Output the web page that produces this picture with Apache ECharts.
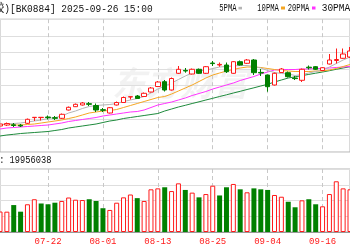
<!DOCTYPE html>
<html><head><meta charset="utf-8">
<script src="https://cdn.jsdelivr.net/npm/echarts@6/dist/echarts.min.js"></script>
<style>html,body{margin:0;padding:0;background:#fff}#c{width:350px;height:250px}</style>
</head><body><div id="c"></div>
<script>
const dates = ['07-11','07-14','07-15','07-16','07-17','07-18','07-21','07-22','07-23','07-24','07-25','07-28','07-29','07-30','07-31',
 '08-01','08-04','08-05','08-06','08-07','08-08','08-11','08-12','08-13','08-14','08-15','08-18','08-19','08-20','08-21','08-22','08-25','08-26','08-27','08-28','08-29',
 '09-01','09-02','09-03','09-04','09-05','09-08','09-09','09-10','09-11','09-12','09-15','09-16','09-17','09-18','09-19','09-22'];
const tickLabels = ['07-22','08-01','08-13','08-25','09-04','09-16'];

const open  = [1022,1023,1023.2,1022.8,1024.7,1030.4,1030.4,1031,1030.3,1029.7,1038,1041.3,1043,1044.3,1042.5,1038.3,1035,1043,1045.5,1051,1052,1051.5,1056,1061.5,1066.3,1058,1074.7,1077.6,1074,1078.7,1074.7,1085,1083,1083,1074.7,1086.3,1084.7,1088,1075.6,1073,1063,1075.5,1075.3,1070,1067.7,1080.8,1081.3,1077.5,1084,1087.5,1089.7,1091];
const close = [1024,1024.5,1022.5,1022,1028.7,1030.7,1030.7,1030.4,1029.7,1033.7,1040.7,1043.7,1045,1043.7,1038,1037.7,1040.3,1045.5,1050.5,1051.3,1049.5,1054.7,1060,1066,1058,1069.5,1078.7,1077,1078.7,1074.7,1081.3,1084.4,1083.6,1076.3,1086.3,1083,1088,1075.3,1075,1061.3,1074.7,1079,1071.3,1069.4,1078.7,1080.2,1078.7,1080.3,1088,1088.5,1094,1097];
const low   = [1021,1022,1021,1021,1024,1027,1027.5,1028.5,1028,1029,1037.5,1041,1042.5,1042,1036,1036,1034.5,1042.5,1045,1048.5,1049,1051,1055.5,1061,1056.5,1057.5,1074,1075.3,1073.5,1074,1074,1082,1081.3,1075,1074.2,1082.5,1084,1073,1072,1056.3,1062.5,1075,1070.5,1068,1066,1078.5,1078,1077,1083.5,1084.5,1089.2,1090];
const high  = [1025,1025.5,1025,1024,1029.5,1030.8,1030.8,1032.5,1032,1034.5,1041.5,1044.5,1046,1046,1044.5,1040,1041,1046.5,1051.5,1051.4,1053,1055.5,1061,1067,1068,1070.5,1082,1080,1079.5,1079.5,1082,1087,1085.5,1085.5,1087,1087.5,1089,1089,1079,1073.5,1075.5,1080,1076.5,1072,1079.5,1082.5,1082,1081,1094,1099.5,1099.5,1101];

const ma5  = [1023.5,1024,1024.5,1025,1026,1027,1028,1029.5,1030.5,1032,1035,1037,1039.5,1041.5,1042.5,1043,1043.5,1044.5,1046.5,1048,1049.5,1051.5,1055,1059,1062,1065,1068.5,1072,1075,1077,1078,1079.5,1081,1081.5,1082,1082.5,1082.5,1081.5,1080,1077.5,1075.5,1074.5,1074,1072.5,1073.5,1075,1076.5,1078,1081,1084.5,1088,1091];
const ma10 = [1023.5,1023.5,1023,1023,1023.5,1024,1025,1026,1027,1028,1029.5,1031,1033,1035,1036,1037,1037.5,1038.5,1040.5,1042.5,1044.5,1046.5,1048.5,1050.5,1051.5,1054,1057,1060,1063,1066.5,1070,1073,1075,1077,1078.5,1080,1081,1081,1080.5,1079.5,1078.5,1077.5,1077,1076.5,1076.5,1076.5,1077,1077,1078,1079.5,1081.5,1083.5];
const ma20 = [1019,1020,1020.5,1021,1021.5,1022,1022.5,1023,1024,1025,1026.5,1027.5,1028.5,1029.5,1030.5,1032,1033,1034,1035,1036,1036.5,1038,1040.5,1043,1044.5,1046,1048,1050,1052.5,1054.5,1056.5,1059,1061,1063,1065,1067.5,1069.5,1071.5,1074,1076,1078,1078.5,1078.5,1078.5,1079,1079,1079.5,1079.5,1080,1080.5,1081,1081.5];
const ma30 = [1012,1013,1013.7,1014.5,1015,1015.5,1016,1016.5,1017.5,1018.5,1020,1021,1022,1023,1024,1025.5,1027,1028,1029.5,1030.5,1031.5,1032.5,1033.5,1034.5,1037,1039,1041,1042.7,1044.5,1046.2,1048,1049.7,1051.5,1053.2,1055,1056.7,1058.5,1060.2,1062,1063.7,1066,1068,1070,1071.2,1072.4,1073.6,1074.8,1076,1077.3,1078.7,1080,1081.3];

// volume in millions of shares
const volume = [13,12.9,17.1,12.9,17.6,20.8,18.1,17.6,18.6,19.7,21.9,20.5,20.3,20.8,19.7,15.1,14.0,18.6,22.0,23.8,21.5,19.7,27.1,27.7,28.4,26.0,30.9,26.7,25.0,22.0,24.1,29.4,23.2,28.4,30.5,27.1,25.2,27.7,27.1,26.7,23.5,22.4,19.2,15.7,20.1,20.8,17.6,16.3,24.1,32.2,27.7,27.1];
const volUp  = [1,1,0,0,1,1,0,0,0,1,1,1,1,0,0,0,1,1,1,1,0,1,1,1,0,1,1,0,1,0,1,1,0,0,1,0,1,0,0,0,1,1,0,0,1,0,0,1,1,1,1,1];

const RED = '#ff1a1a', GREEN = '#008000';
const tickSet = new Set(tickLabels);
const showTick = (i) => tickSet.has(dates[i]);

const chart = echarts.init(document.getElementById('c'), null, {renderer: 'canvas'});
const gridL = -5.7, gridR = -1.3;
const dashed = {show: true, interval: showTick, lineStyle: {color: '#c8c8c8', type: [4, 3], width: 1}};

chart.setOption({
  animation: false,
  backgroundColor: '#fff',
  grid: [
    {left: gridL, right: gridR, top: 19.2, height: 132.8, show: true, borderColor: '#b4b4b4', borderWidth: 1},
    {left: gridL, right: gridR, top: 169, height: 63, show: true, borderColor: '#b4b4b4', borderWidth: 1}
  ],
  xAxis: [
    {type: 'category', gridIndex: 0, data: dates, boundaryGap: false,
     axisLine: {show: false}, axisTick: {show: false}, axisLabel: {show: false}, splitLine: dashed},
    {type: 'category', gridIndex: 1, data: dates, boundaryGap: false,
     axisLine: {show: true, lineStyle: {color: '#999'}}, axisTick: {show: false},
     axisLabel: {show: true, interval: showTick, color: RED, fontFamily: 'Liberation Mono', fontSize: 9, margin: 5},
     splitLine: dashed}
  ],
  yAxis: [
    {type: 'value', gridIndex: 0, min: 996, max: 1128.8, interval: 16.6, scale: true,
     axisLine: {show: false}, axisTick: {show: false}, axisLabel: {show: false},
     splitLine: {show: true, lineStyle: {color: '#dedede'}}},
    {type: 'value', gridIndex: 1, min: 0, max: 40, interval: 10,
     axisLine: {show: false}, axisTick: {show: false}, axisLabel: {show: false},
     splitLine: {show: true, lineStyle: {color: '#dedede'}}}
  ],
  graphic: [
    {type: 'text', x: 112, y: 83, silent: true, z: 0,
     style: {text: '东方财富', fontSize: 34, fontWeight: 'bold', fontStyle: 'italic', fontFamily: 'Noto Sans CJK SC', fill: 'rgba(0,0,0,0.05)', verticalAlign: 'middle'}},
    {type: 'text', x: -5.2, y: 9, scaleX: 0.864,
     style: {text: '胶)[BK0884] 2025-09-26 15:00', fontSize: 11, fontFamily: 'Liberation Mono, Noto Sans CJK SC', fill: '#111', verticalAlign: 'middle'}},
    {type: 'text', x: 219.3, y: 8.6, scaleX: 0.72, style: {text: '5PMA', fontSize: 10, fontFamily: 'Liberation Mono', fill: '#111', verticalAlign: 'middle'}},
    {type: 'rect', shape: {x: 238.5, y: 6.8, width: 3.5, height: 2.6}, style: {fill: '#b4b4b4'}},
    {type: 'text', x: 257.3, y: 8.6, scaleX: 0.72, style: {text: '10PMA', fontSize: 10, fontFamily: 'Liberation Mono', fill: '#111', verticalAlign: 'middle'}},
    {type: 'rect', shape: {x: 281, y: 6.5, width: 4, height: 3}, style: {fill: '#f5a623'}},
    {type: 'text', x: 287.7, y: 8.6, scaleX: 0.72, style: {text: '20PMA', fontSize: 10, fontFamily: 'Liberation Mono', fill: '#111', verticalAlign: 'middle'}},
    {type: 'rect', shape: {x: 312, y: 6.5, width: 3.5, height: 3}, style: {fill: '#ff33ff'}},
    {type: 'text', x: 321.7, y: 8.6, scaleX: 0.95, style: {text: '30PMA', fontSize: 10, fontFamily: 'Liberation Mono', fill: '#111', verticalAlign: 'middle'}},
    {type: 'text', x: -16.5, y: 160, scaleX: 0.87, style: {text: 'VOL: 19956038', fontSize: 10, fontFamily: 'Liberation Mono', fill: '#111', verticalAlign: 'middle'}}
  ],
  series: [
    {type: 'line', xAxisIndex: 0, yAxisIndex: 0, data: ma30, symbol: 'none', lineStyle: {color: '#1e8a3c', width: 1}, z: 2},
    {type: 'line', xAxisIndex: 0, yAxisIndex: 0, data: ma20, symbol: 'none', lineStyle: {color: '#ff33ff', width: 1}, z: 2},
    {type: 'line', xAxisIndex: 0, yAxisIndex: 0, data: ma10, symbol: 'none', lineStyle: {color: '#f5a623', width: 1}, z: 2},
    {type: 'line', xAxisIndex: 0, yAxisIndex: 0, data: ma5, symbol: 'none', lineStyle: {color: '#b4b4b4', width: 1}, z: 2},
    {type: 'candlestick', xAxisIndex: 0, yAxisIndex: 0, barWidth: 5, z: 3,
     data: dates.map((d, i) => [open[i], close[i], low[i], high[i]]),
     itemStyle: {color: '#fff', color0: GREEN, borderColor: RED, borderColor0: GREEN, borderWidth: 1}},
    {type: 'bar', xAxisIndex: 1, yAxisIndex: 1, barWidth: 5,
     data: volume.map((v, i) => ({value: v, itemStyle: volUp[i]
        ? {color: '#fff', borderColor: RED, borderWidth: 1}
        : {color: GREEN, borderColor: GREEN, borderWidth: 0}}))}
  ]
});
</script>
</body></html>
